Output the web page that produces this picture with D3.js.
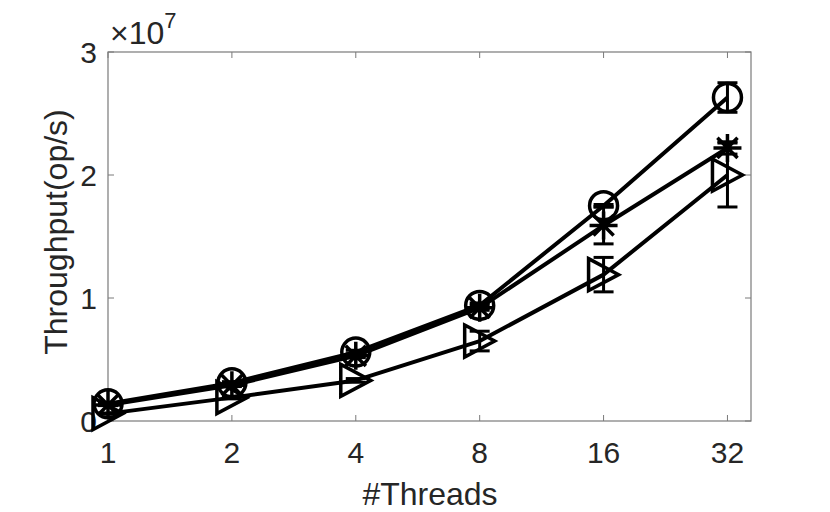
<!DOCTYPE html>
<html>
<head>
<meta charset="UTF-8">
<title>Throughput vs threads</title>
<style>
  body { margin: 0; padding: 0; background: #fff; }
  svg { display: block; font-family: "Liberation Sans", Arial, sans-serif; }
</style>
</head>
<body>
<svg width="830" height="512"></svg>
<script src="https://d3js.org/d3.v7.min.js"></script>
<script>
// thread counts on the x axis
var threads = [1, 2, 4, 8, 16, 32];
var yTicks = [0, 1e7, 2e7, 3e7];

// three series (op/s) and their error bar half-widths
var circleVals = [1.4e6, 3.1e6, 5.6e6, 9.4e6, 1.75e7, 2.63e7];
var circleErr  = [0.5e5, 1.0e5, 1.5e5, 2.0e5, 1.0e5, 1.2e6];
var starVals   = [1.3e6, 2.9e6, 5.3e6, 9.2e6, 1.59e7, 2.22e7];
var starErr    = [0.5e5, 1.0e5, 1.5e5, 2.0e5, 1.5e6, 0.5e6];
var triVals    = [0.6e6, 1.9e6, 3.3e6, 6.5e6, 1.19e7, 2.0e7];
var triErr     = [0.5e5, 1.0e5, 1.5e5, 0.8e6, 1.4e6, 2.6e6];

var svg = d3.select("svg");
var plotL = 108, plotR = 751, plotT = 52, plotB = 421;

var x = d3.scaleLog().base(2).domain([1, Math.pow(2, 5.19)]).range([plotL, plotR]);
var y = d3.scaleLinear().domain([0, 3e7]).range([plotB, plotT]);

var axisColor = "#7a7a7a", textColor = "#262626";

// box
svg.append("rect")
    .attr("x", plotL).attr("y", plotT)
    .attr("width", plotR - plotL).attr("height", plotB - plotT)
    .attr("fill", "none").attr("stroke", axisColor).attr("stroke-width", 1.2);

// ticks (inward, on all sides)
var tl = 6;
threads.forEach(function (t) {
    svg.append("line").attr("x1", x(t)).attr("x2", x(t)).attr("y1", plotB).attr("y2", plotB - tl)
        .attr("stroke", axisColor);
    svg.append("line").attr("x1", x(t)).attr("x2", x(t)).attr("y1", plotT).attr("y2", plotT + tl)
        .attr("stroke", axisColor);
    svg.append("text").attr("x", x(t)).attr("y", 463)
        .attr("text-anchor", "middle").attr("font-size", 30).attr("fill", textColor)
        .text(t);
});
yTicks.forEach(function (v) {
    svg.append("line").attr("x1", plotL).attr("x2", plotL + tl).attr("y1", y(v)).attr("y2", y(v))
        .attr("stroke", axisColor);
    svg.append("line").attr("x1", plotR).attr("x2", plotR - tl).attr("y1", y(v)).attr("y2", y(v))
        .attr("stroke", axisColor);
    svg.append("text").attr("x", 97).attr("y", y(v)).attr("dy", "0.37em")
        .attr("text-anchor", "end").attr("font-size", 30).attr("fill", textColor)
        .text(v / 1e7);
});

// exponent
var ex = svg.append("text").attr("x", 110).attr("y", 44)
    .attr("font-size", 32).attr("fill", textColor);
ex.append("tspan").text("\u00d710");
ex.append("tspan").attr("font-size", 22).attr("dy", -16).text("7");

// axis labels
svg.append("text").attr("x", 430).attr("y", 505)
    .attr("text-anchor", "middle").attr("font-size", 32).attr("fill", textColor)
    .text("#Threads");
svg.append("text").attr("transform", "translate(67,232) rotate(-90)")
    .attr("text-anchor", "middle").attr("font-size", 32).attr("fill", textColor)
    .text("Throughput(op/s)");

var line = d3.line()
    .x(function (d) { return x(d[0]); })
    .y(function (d) { return y(d[1]); });

function drawSeries(vals, errs, marker) {
    var pts = threads.map(function (t, i) { return [t, vals[i], errs[i]]; });
    var g = svg.append("g").attr("stroke", "#000").attr("fill", "none");
    g.append("path").attr("d", line(pts)).attr("stroke-width", 4).attr("stroke-linejoin", "round");
    // error bars
    pts.forEach(function (p) {
        var cx = x(p[0]), hi = y(p[1] + p[2]), lo = y(p[1] - p[2]);
        g.append("line").attr("x1", cx).attr("x2", cx).attr("y1", hi).attr("y2", lo).attr("stroke-width", 3);
        g.append("line").attr("x1", cx - 10).attr("x2", cx + 10).attr("y1", hi).attr("y2", hi).attr("stroke-width", 3);
        g.append("line").attr("x1", cx - 10).attr("x2", cx + 10).attr("y1", lo).attr("y2", lo).attr("stroke-width", 3);
    });
    // markers
    pts.forEach(function (p) {
        var cx = x(p[0]), cy = y(p[1]);
        if (marker === "circle") {
            g.append("circle").attr("cx", cx).attr("cy", cy).attr("r", 14).attr("stroke-width", 3.5);
        } else if (marker === "star") {
            var r = 14, d = r * 0.72;
            g.append("path").attr("stroke-width", 3.5)
                .attr("d", "M" + (cx - r) + "," + cy + "H" + (cx + r) +
                    "M" + cx + "," + (cy - r) + "V" + (cy + r) +
                    "M" + (cx - d) + "," + (cy - d) + "L" + (cx + d) + "," + (cy + d) +
                    "M" + (cx - d) + "," + (cy + d) + "L" + (cx + d) + "," + (cy - d));
        } else {
            var w = 15, h = 16;
            g.append("path").attr("stroke-width", 3.5).attr("stroke-linejoin", "miter")
                .attr("d", "M" + (cx - w) + "," + (cy - h) + "L" + (cx + w) + "," + cy +
                    "L" + (cx - w) + "," + (cy + h) + "Z");
        }
    });
}

drawSeries(triVals, triErr, "tri");
drawSeries(starVals, starErr, "star");
drawSeries(circleVals, circleErr, "circle");
</script>
</body>
</html>
